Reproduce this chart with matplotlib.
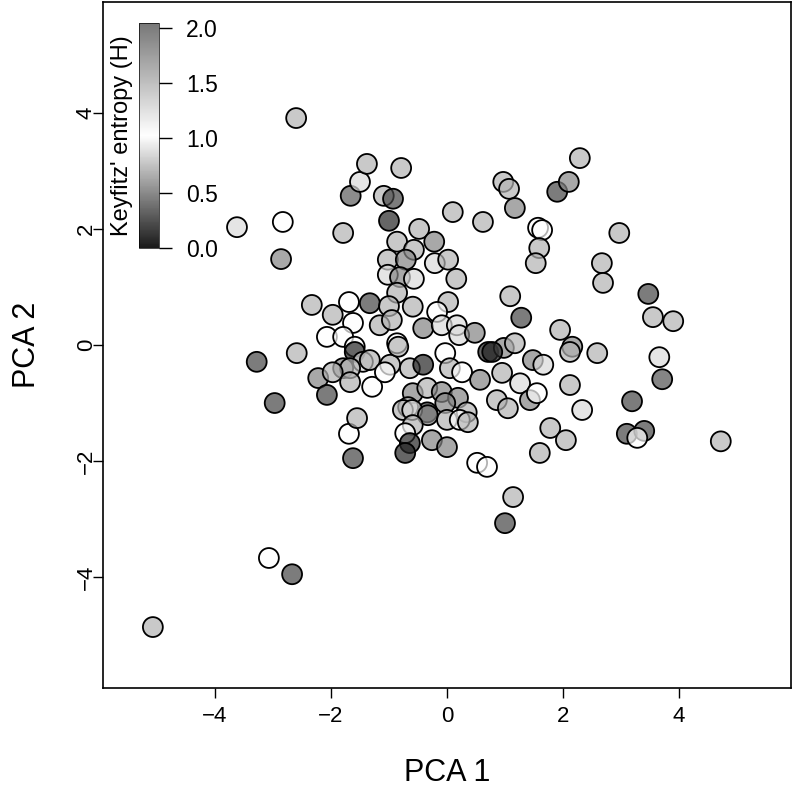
import numpy as np
import matplotlib
matplotlib.use("Agg")
import matplotlib.pyplot as plt
from matplotlib.colors import LinearSegmentedColormap, Normalize
from matplotlib.cm import ScalarMappable

plt.rcParams['font.family'] = ['Liberation Sans', 'DejaVu Sans']

# PCA scores
pca1 = [-5.07, -3.07, -2.67, -3.28, -2.97, -2.86, -3.62, -2.83, -2.60, -2.59,
        -2.33, -2.22, -2.07, -1.79, -1.66, -1.50, -1.38, -1.09, -0.93, -1.00,
        -0.79, -0.86, -0.48, -0.22, 0.10, -0.57, -1.02, -0.71, -0.21, 0.02,
        -1.02, -0.81, -0.57, 0.16, -0.86, -1.69, -1.33, -1.00, -0.59, 0.02,
        -1.97, -1.62, -1.16, -0.95, -0.41, -0.17, -0.09, 0.17, 0.21, 0.48,
        -2.07, -1.79, -1.59, -1.59, -1.45, -1.33, -1.79, -1.67, -1.97, -1.67,
        -1.29, -0.98, -0.86, -0.84, -1.07, -0.64, -0.41, -0.03, 0.05, 0.26,
        0.57, 0.71, 0.98, 0.78, 1.17, 1.09, 1.28, 1.48, 1.66, 0.95,
        1.26, 1.43, 1.55, 0.86, 1.05, 1.95, 2.16, 2.12, 2.59, 2.12,
        2.33, 1.78, 2.05, 1.60, 0.52, 0.69, 1.14, 1.00, -0.59, -0.34,
        -0.09, 0.19, -0.03, -0.67, -0.34, 0.34, -0.76, -0.60, -0.33, -0.59,
        -0.72, -0.64, -0.72, -0.26, 0.00, 0.00, 0.22, 0.36, -1.69, -1.55,
        -1.62, 0.97, 1.07, 1.17, 1.90, 2.10, 2.29, 0.62, 1.57, 1.64,
        1.59, 1.53, 2.97, 2.67, 2.69, 3.47, 3.55, 3.90, 3.66, 3.71,
        3.19, 3.10, 3.40, 3.28, 4.72]
pca2 = [-4.86, -3.67, -3.95, -0.29, -1.00, 1.48, 2.03, 2.12, 3.91, -0.14,
        0.69, -0.57, -0.86, 1.93, 2.57, 2.81, 3.12, 2.57, 2.52, 2.14,
        3.05, 1.78, 2.00, 1.78, 2.29, 1.64, 1.47, 1.47, 1.41, 1.47,
        1.21, 1.17, 1.14, 1.14, 0.90, 0.74, 0.72, 0.67, 0.66, 0.74,
        0.52, 0.38, 0.34, 0.43, 0.29, 0.57, 0.34, 0.34, 0.17, 0.21,
        0.14, 0.14, -0.03, -0.12, -0.29, -0.26, -0.40, -0.40, -0.47, -0.64,
        -0.72, -0.34, 0.03, -0.03, -0.47, -0.40, -0.34, -0.14, -0.40, -0.47,
        -0.60, -0.12, -0.05, -0.12, 0.03, 0.84, 0.47, -0.26, -0.34, -0.48,
        -0.66, -0.95, -0.83, -0.95, -1.09, 0.26, -0.03, -0.12, -0.14, -0.69,
        -1.12, -1.43, -1.64, -1.86, -2.03, -2.10, -2.62, -3.07, -0.83, -0.74,
        -0.81, -0.91, -1.00, -1.07, -1.16, -1.16, -1.12, -1.12, -1.21, -1.38,
        -1.52, -1.69, -1.86, -1.64, -1.76, -1.29, -1.29, -1.33, -1.53, -1.26,
        -1.95, 2.81, 2.69, 2.36, 2.64, 2.81, 3.22, 2.12, 2.02, 1.98,
        1.67, 1.41, 1.93, 1.41, 1.07, 0.88, 0.48, 0.41, -0.21, -0.59,
        -0.97, -1.53, -1.48, -1.60, -1.66]
entropy = [1.6, 1.02, 0.2, 0.2, 0.2, 1.95, 1.3, 1.02, 1.6, 1.6,
           1.6, 1.95, 0.2, 1.6, 0.3, 1.3, 1.6, 1.6, 0.2, 0.05,
           1.6, 1.6, 1.6, 1.95, 1.6, 1.6, 1.6, 1.95, 1.3, 1.6,
           1.3, 1.95, 1.3, 1.6, 1.6, 1.02, 0.2, 1.6, 1.6, 1.6,
           1.6, 1.02, 1.6, 1.6, 1.95, 1.02, 1.3, 1.3, 1.3, 1.95,
           1.02, 1.02, 1.02, 0.05, 1.3, 1.6, 1.95, 1.6, 1.6, 1.6,
           1.02, 1.6, 1.02, 1.6, 1.02, 1.6, 0.05, 1.02, 1.6, 1.02,
           1.95, 0.05, 1.95, 0.05, 1.6, 1.6, 0.2, 1.95, 1.3, 1.6,
           1.3, 1.95, 1.02, 1.6, 1.6, 1.6, 1.95, 1.6, 1.6, 1.6,
           1.3, 1.6, 1.6, 1.6, 1.02, 1.02, 1.6, 0.2, 1.95, 1.6,
           1.95, 1.95, 1.95, 1.6, 0.2, 1.6, 1.6, 1.3, 1.95, 1.6,
           1.02, 0.05, 0.05, 1.95, 1.95, 1.6, 1.02, 1.6, 1.02, 1.6,
           0.2, 1.6, 1.6, 1.95, 0.2, 1.95, 1.6, 1.6, 1.02, 1.02,
           1.6, 1.6, 1.6, 1.6, 1.6, 0.2, 1.6, 1.6, 1.3, 0.25,
           0.2, 0.2, 0.2, 1.02, 1.6]

cbar_ticks = [0.0, 0.5, 1.0, 1.5, 2.0]

cmap = LinearSegmentedColormap.from_list("keyfitz", ["#1a1a1a", "#ffffff", "#777777"])
norm = Normalize(vmin=0, vmax=2.05)

fig = plt.figure(figsize=(7.94, 7.94), dpi=100)
ax = fig.add_axes([0.1297, 0.1335, 0.8665, 0.864])

face = cmap(norm(np.array(entropy)))
face[:, 3] = 0.7
ax.scatter(pca1, pca2, s=205, facecolors=face, edgecolors="black", linewidths=1.3, zorder=3)

ax.set_xlim(-5.93, 5.93)
ax.set_ylim(-5.91, 5.91)
ax.set_xticks([-4, -2, 0, 2, 4])
ax.set_yticks([-4, -2, 0, 2, 4])
ax.set_xticklabels(["\u22124", "\u22122", "0", "2", "4"])
ax.set_yticklabels(["\u22124", "\u22122", "0", "2", "4"], rotation=90, va="center")
ax.tick_params(direction="out", length=7, width=1, labelsize=16)
ax.tick_params(axis="x", pad=6)
ax.tick_params(axis="y", pad=-2.5)
for sp in ax.spines.values():
    sp.set_linewidth(1.2)
ax.set_xlabel("PCA 1", fontsize=22, labelpad=22)
ax.set_ylabel("PCA 2", fontsize=22, labelpad=24)

# colour key inside the plot
cax = fig.add_axes([0.175, 0.6877, 0.025, 0.2834])
cb = fig.colorbar(ScalarMappable(norm=norm, cmap=cmap), cax=cax, ticks=cbar_ticks)
cb.outline.set_linewidth(0.5)
cb.ax.set_yticklabels(["0.0", "0.5", "1.0", "1.5", "2.0"])
cax.tick_params(length=9.5, width=1, labelsize=16.5, pad=10)
cax.yaxis.set_label_position("left")
cb.set_label("Keyfitz' entropy (H)", fontsize=17, labelpad=4)

fig.savefig("out.png", dpi=100)
